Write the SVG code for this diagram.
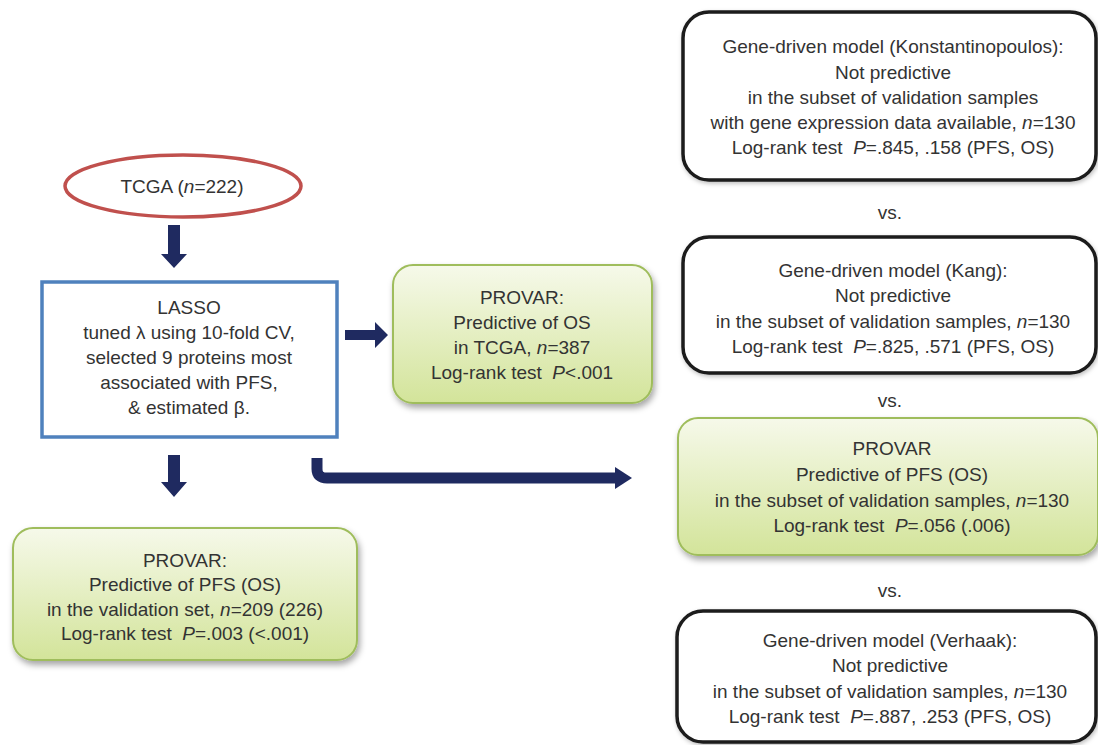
<svg xmlns="http://www.w3.org/2000/svg" width="1098" height="745" viewBox="0 0 1098 745">
<style>
text{font-family:"Liberation Sans",Arial,sans-serif;font-size:19px;fill:#333;text-anchor:middle;dominant-baseline:central}
.i{font-style:italic}
.green{fill:url(#gg);stroke:#9fbd5c;stroke-width:2;filter:url(#sh)}
.black{fill:#fff;stroke:#1a1a1a;stroke-width:3.5;filter:url(#sh2)}
.arr{fill:#1f2a60}
</style>
<defs>
<linearGradient id="gg" x1="0" y1="0" x2="0" y2="1">
<stop offset="0" stop-color="#f6f9ea"/>
<stop offset="1" stop-color="#d3e49a"/>
</linearGradient>
<filter id="sh" x="-10%" y="-10%" width="125%" height="130%">
<feDropShadow dx="2" dy="4" stdDeviation="3" flood-color="#000" flood-opacity="0.35"/>
</filter>
<filter id="sh2" x="-10%" y="-10%" width="125%" height="130%">
<feDropShadow dx="1" dy="2" stdDeviation="2" flood-color="#000" flood-opacity="0.25"/>
</filter>
</defs>

<g id="connectors">
<polygon class="arr" points="168,225 180,225 180,254 187,254 174,268 161,254 168,254"/>
<polygon class="arr" points="345,330 375,330 375,322 388,335 375,348 375,340 345,340"/>
<path d="M317 458 V469 Q317 478 327 478 H617" fill="none" stroke="#1f2a60" stroke-width="11"/>
<polygon class="arr" points="615,467 632,478 615,489"/>
<polygon class="arr" points="168,455 180,455 180,482 187,482 174,497 161,482 168,482"/>
</g>

<g id="tcga">
<ellipse cx="183" cy="186" rx="118" ry="31" fill="#fff" stroke="#c0504d" stroke-width="3.5"/>
<text x="182" y="186">TCGA (<tspan class="i">n</tspan>=222)</text>
</g>

<g id="lasso">
<rect x="42" y="282" width="295" height="155" fill="#fff" stroke="#4f81bd" stroke-width="3.5"/>
<text x="189" y="307">LASSO</text>
<text x="189" y="332">tuned λ using 10-fold CV,</text>
<text x="189" y="357">selected 9 proteins most</text>
<text x="189" y="382">associated with PFS,</text>
<text x="189" y="407">&amp; estimated β.</text>
</g>

<g id="provar-tcga">
<rect class="green" x="393" y="265" width="259" height="138" rx="20"/>
<text x="522" y="297">PROVAR:</text>
<text x="522" y="322">Predictive of OS</text>
<text x="522" y="347">in TCGA, <tspan class="i">n</tspan>=387</text>
<text x="522" y="372">Log-rank test&#160; <tspan class="i">P</tspan>&lt;.001</text>
</g>

<g id="provar-validation">
<rect class="green" x="13" y="528" width="344" height="132" rx="20"/>
<text x="185" y="560">PROVAR:</text>
<text x="185" y="584">Predictive of PFS (OS)</text>
<text x="185" y="609">in the validation set, <tspan class="i">n</tspan>=209 (226)</text>
<text x="185" y="633">Log-rank test&#160; <tspan class="i">P</tspan>=.003 (&lt;.001)</text>
</g>

<g id="konstantinopoulos">
<rect class="black" x="683" y="12" width="413" height="168" rx="26"/>
<text x="893" y="46">Gene-driven model (Konstantinopoulos):</text>
<text x="893" y="72">Not predictive</text>
<text x="893" y="97">in the subset of validation samples</text>
<text x="893" y="122">with gene expression data available, <tspan class="i">n</tspan>=130</text>
<text x="893" y="147">Log-rank test&#160; <tspan class="i">P</tspan>=.845, .158 (PFS, OS)</text>
</g>

<text x="890" y="212">vs.</text>

<g id="kang">
<rect class="black" x="683" y="237" width="413" height="136" rx="26"/>
<text x="893" y="270">Gene-driven model (Kang):</text>
<text x="893" y="295">Not predictive</text>
<text x="893" y="321">in the subset of validation samples, <tspan class="i">n</tspan>=130</text>
<text x="893" y="346">Log-rank test&#160; <tspan class="i">P</tspan>=.825, .571 (PFS, OS)</text>
</g>

<text x="890" y="400">vs.</text>

<g id="provar-subset">
<rect class="green" x="678" y="418" width="420" height="137" rx="20"/>
<text x="892" y="448">PROVAR</text>
<text x="892" y="474">Predictive of PFS (OS)</text>
<text x="892" y="500">in the subset of validation samples, <tspan class="i">n</tspan>=130</text>
<text x="892" y="525">Log-rank test&#160; <tspan class="i">P</tspan>=.056 (.006)</text>
</g>

<text x="890" y="590">vs.</text>

<g id="verhaak">
<rect class="black" x="677" y="611" width="419" height="131" rx="26"/>
<text x="890" y="640">Gene-driven model (Verhaak):</text>
<text x="890" y="665">Not predictive</text>
<text x="890" y="691">in the subset of validation samples, <tspan class="i">n</tspan>=130</text>
<text x="890" y="716">Log-rank test&#160; <tspan class="i">P</tspan>=.887, .253 (PFS, OS)</text>
</g>
</svg>
